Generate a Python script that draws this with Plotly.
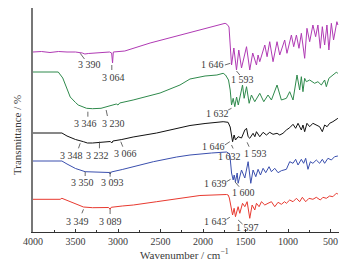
import plotly.graph_objects as go

# ---------------- data (wavenumber, transmittance offset units) ----------------
wn_a = [4000, 3900, 3800, 3700, 3600, 3500, 3420, 3390, 3350, 3200, 3100, 3075, 3064, 3055, 3000, 2920,
        2622, 2400, 2150, 1900, 1760, 1740, 1715, 1694, 1680, 1664, 1637, 1606, 1579, 1547, 1488, 1450,
        1415, 1371, 1352, 1332, 1273, 1246, 1215, 1176, 1129, 1097, 1039, 1012, 960, 933, 901, 871, 843,
        804, 777, 745, 707, 675, 648, 620, 596, 569, 542, 519, 490, 464, 425, 413]
t_a = [180, 180.5, 179.5, 180.5, 180, 180, 179, 178, 178.5, 179.5, 180, 179, 169, 180, 180.5, 181,
       189, 194, 199.5, 205, 208, 208.7, 207.5, 205, 187, 167, 184, 162, 182, 164, 185.3, 162,
       179, 167, 177, 170.3, 187, 175.3, 190.3, 170.3, 190.3, 177, 192, 178.7, 197, 185.3, 197, 183.7, 198.7,
       173.7, 203.7, 190.3, 207, 195.3, 207, 183.7, 205.3, 187, 207, 182, 208.7, 192, 210.3, 207]

wn_b = [4000, 3900, 3800, 3703, 3650, 3600, 3562, 3500, 3468, 3370, 3300, 3200, 3131, 3020, 3000, 2980,
        2822, 2505, 2271, 2153, 1976, 1837, 1763, 1735, 1700, 1680, 1664, 1645, 1626, 1605, 1585, 1535,
        1516, 1488, 1457, 1430, 1391, 1332, 1285, 1235, 1195, 1129, 1078, 1019, 980, 941, 894, 863, 843,
        824, 804, 784, 745, 687, 648, 608, 569, 549, 519, 472, 432, 413]
t_b = [160, 160, 159.5, 160, 154, 144, 135, 129.5, 127, 123.7, 123.3, 123.7, 125.3, 128, 127, 129,
       132, 139, 147, 153, 156, 157, 158.7, 157, 152, 142, 127, 133.7, 125.3, 135, 127, 147,
       133.7, 145.3, 128.7, 137, 130.3, 138.7, 130.3, 137, 132, 147, 132, 133.7, 140.3, 132, 157, 142, 155.3,
       140.3, 153.7, 150.3, 152, 148.7, 150.3, 147, 152, 145.3, 153.7, 157, 159.7, 158.7]

wn_c = [4000, 3900, 3800, 3700, 3660, 3600, 3500, 3406, 3360, 3300, 3230, 3131, 3090, 3073, 3060, 2955,
        2822, 2545, 2271, 2153, 1976, 1763, 1705, 1680, 1652, 1634, 1618, 1587, 1547, 1508, 1488, 1469,
        1450, 1411, 1390, 1371, 1332, 1293, 1254, 1215, 1176, 1129, 1097, 1059, 1019, 980, 941, 910, 882,
        843, 824, 804, 777, 745, 707, 667, 628, 596, 569, 540, 510, 472, 432, 413]
t_c = [99, 99, 98.5, 99, 99, 96, 92.5, 90.3, 89, 89, 89.5, 90.3, 90.5, 89, 91, 92.5,
       95, 99, 104, 106.5, 108.5, 110.3, 109.7, 105, 90.3, 97, 92, 95.3, 94, 102, 103.7, 95.3,
       93.7, 98.7, 95.3, 100.3, 95.3, 99.7, 97, 99.7, 97.7, 98.7, 97, 98.7, 102, 104.3, 107.7, 103.7, 108.7,
       102, 107, 100.3, 108.7, 105.3, 108.7, 107, 105.3, 100.3, 107, 105.3, 108.7, 110.3, 113, 113.7]

wn_d = [4000, 3900, 3800, 3700, 3660, 3600, 3500, 3386, 3300, 3200, 3131, 3100, 3093, 3080, 2950, 2819,
        2584, 2310, 2153, 1900, 1723, 1700, 1684, 1664, 1645, 1633, 1618, 1598, 1587, 1547, 1508, 1469,
        1438, 1411, 1379, 1352, 1324, 1293, 1262, 1223, 1195, 1156, 1117, 1078, 1019, 980, 941, 910, 882,
        843, 816, 792, 765, 737, 707, 667, 628, 596, 569, 530, 490, 452, 413]
t_d = [71, 71, 71, 71.3, 71, 68, 63.5, 60.3, 60, 60, 60, 59.5, 58, 60, 62.5, 65.3,
       70.3, 75, 77, 79, 80, 79, 77, 59, 52, 57, 50.3, 59, 48.7, 62, 54, 70.3,
       48.7, 62, 55.3, 62.7, 57, 63.7, 59.3, 65.3, 60.3, 63.7, 59.3, 61.3, 62.7, 70.3, 68.7, 72.7, 67,
       72.7, 68.7, 73.7, 62.7, 70.3, 68.7, 72, 68.7, 72.7, 68.7, 73.7, 72, 75.3, 76]

wn_e = [4000, 3900, 3800, 3680, 3660, 3600, 3500, 3406, 3300, 3209, 3110, 3093, 3080, 2950, 2819, 2545,
        2271, 2036, 1723, 1704, 1690, 1670, 1652, 1634, 1618, 1587, 1567, 1535, 1508, 1481, 1450, 1422,
        1391, 1371, 1340, 1312, 1273, 1235, 1195, 1156, 1117, 1078, 1040, 1019, 980, 941, 901, 863, 831,
        792, 753, 707, 667, 620, 589, 549, 510, 472, 432, 413]
t_e = [32.7, 32.7, 32.7, 32.7, 33.7, 31.5, 28, 25, 24.3, 24.3, 24.5, 22.7, 24.7, 26, 27, 30.3,
       33.7, 36.5, 37.5, 37, 34, 24, 17, 23.7, 15.3, 25.3, 18.7, 28.7, 25.3, 30.3, 13.7, 27,
       22, 28.7, 25.3, 30.3, 27, 28.7, 30.3, 25.3, 29.7, 27.7, 30.3, 28.7, 32, 30.3, 33.7, 30.3, 34.7,
       30.3, 33.7, 32.7, 34.7, 32, 34.7, 33.7, 36, 35.3, 38.7, 38]

series_names = ["a", "b", "c", "d", "e"]
series_colors = ["#b03ab4", "#2f8a4c", "#111111", "#3a4fae", "#e8392f"]

x_ticks = [4000, 3500, 3000, 2500, 2000, 1500, 1000, 500]
x_ticklabels = ["4000", "3500", "3000", "2500", "2000", "1500", "1000", "500"]

# peak labels: text, label centre (px, py), leader segment (x0, y0, x1, y1) in pixels
peak_texts = ["3 390", "3 064", "1 646", "1 593",
              "3 346", "3 230", "1 632",
              "3 348", "3 232", "3 066", "1 646", "1 632", "1 593",
              "3 350", "3 093", "1 639", "1 600",
              "3 349", "3 089", "1 643", "1 597"]
peak_pos = [(89, 64.7), (113, 77), (213, 64.3), (243, 79.3),
            (85, 123), (113, 123), (217.5, 113.3),
            (71, 155), (97.5, 155), (125.5, 153.3), (214, 146.7), (229.7, 156), (255.5, 153),
            (82, 182.7), (112, 182.7), (215.8, 183.3), (244, 192.3),
            (77, 221), (110, 221), (215.8, 221), (247.5, 227.7)]
leaders = [(80, 53.3, 84.3, 59), (111.7, 65, 111.7, 70), (225, 65, 230.5, 63.3), (236.7, 71, 240, 75),
           (87.7, 111.7, 87.7, 116.7), (106, 110, 107.3, 116), (228.3, 110, 231.7, 108.3),
           (80, 143.3, 78.3, 148.3), (99.3, 141.7, 99.3, 148.3), (120.7, 141.7, 122.7, 146.7),
           (225, 145, 230, 141.7), (233.3, 148.5, 231.7, 145), (247.3, 142.3, 249.3, 146.7),
           (85, 171.7, 85, 176), (110, 171.7, 110, 176.7), (226.7, 181.7, 230.7, 179.3), (235, 181.7, 239.3, 186.7),
           (83.3, 209.3, 81.7, 213.3), (110, 209.3, 110, 214), (226.7, 219.3, 230, 217.3), (238.3, 220, 242.7, 224)]
letter_py = [30, 72, 115, 156.7, 198.5]

# ---------------- layout helpers (pixel -> axis units) ----------------
PX_LEFT, PX_PER_WN, PX_BOTTOM = 32.7, 0.0852, 232.0
PLOT_W, PLOT_H = 306.6, 224.0


def px2x(px):
    return 4000 - (px - PX_LEFT) / PX_PER_WN


def py2y(py):
    return PX_BOTTOM - py


SERIF = "Liberation Serif, Times New Roman, serif"
TXT = "#3a3a3a"

fig = go.Figure()
all_wn = [wn_a, wn_b, wn_c, wn_d, wn_e]
all_t = [t_a, t_b, t_c, t_d, t_e]
for name, color, wn, t in zip(series_names, series_colors, all_wn, all_t):
    fig.add_trace(go.Scatter(x=wn, y=t, mode="lines", name=name,
                             line=dict(color=color, width=1), hoverinfo="skip"))

annotations = []
shapes = []
for txt, (px, py) in zip(peak_texts, peak_pos):
    annotations.append(dict(x=px2x(px), y=py2y(py), xref="x", yref="y", text=txt, showarrow=False,
                            font=dict(family=SERIF, size=10, color=TXT), xanchor="center", yanchor="middle"))
for (x0, y0, x1, y1) in leaders:
    shapes.append(dict(type="line", xref="x", yref="y", x0=px2x(x0), y0=py2y(y0), x1=px2x(x1), y1=py2y(y1),
                       line=dict(color="#444444", width=0.8)))
for name, py in zip(series_names, letter_py):
    annotations.append(dict(x=px2x(347.5), y=py2y(py), xref="x", yref="y", text=name, showarrow=False,
                            font=dict(family=SERIF, size=12, color=TXT), xanchor="center", yanchor="middle"))

# axis titles
annotations.append(dict(x=(185 - 33) / PLOT_W, y=(PX_BOTTOM - 254) / PLOT_H, xref="paper", yref="paper",
                        xanchor="center", yanchor="middle",
                        text="Wavenumber / cm<sup>−1</sup>", showarrow=False,
                        font=dict(family=SERIF, size=11, color=TXT)))
annotations.append(dict(x=(17 - 33) / PLOT_W, y=(PX_BOTTOM - 135) / PLOT_H, xref="paper", yref="paper",
                        xanchor="center", yanchor="middle",
                        text="Transmittance / %", showarrow=False, textangle=-90,
                        font=dict(family=SERIF, size=11, color=TXT)))

fig.update_layout(
    width=360, height=263,
    margin=dict(l=33, r=21, t=8, b=31),
    paper_bgcolor="white", plot_bgcolor="white",
    showlegend=False,
    annotations=annotations,
    shapes=shapes,
    xaxis=dict(range=[4000, 400], tickvals=x_ticks, ticktext=x_ticklabels,
               ticks="inside", ticklen=3, tickcolor="#333333",
               minor=dict(tickvals=[3750, 3250, 2750, 2250, 1750, 1250, 750], ticks="inside",
                          ticklen=2, tickcolor="#333333"),
               showline=True, linecolor="#333333", linewidth=1, showgrid=False, zeroline=False,
               tickfont=dict(family=SERIF, size=10, color=TXT)),
    yaxis=dict(range=[0, 224], showticklabels=False, ticks="", showline=True,
               linecolor="#777777", linewidth=1.5, showgrid=False, zeroline=False),
)

fig.write_html("out.html", config={"displayModeBar": False},
               post_script="document.body.style.margin='0';document.body.style.padding='0';")
